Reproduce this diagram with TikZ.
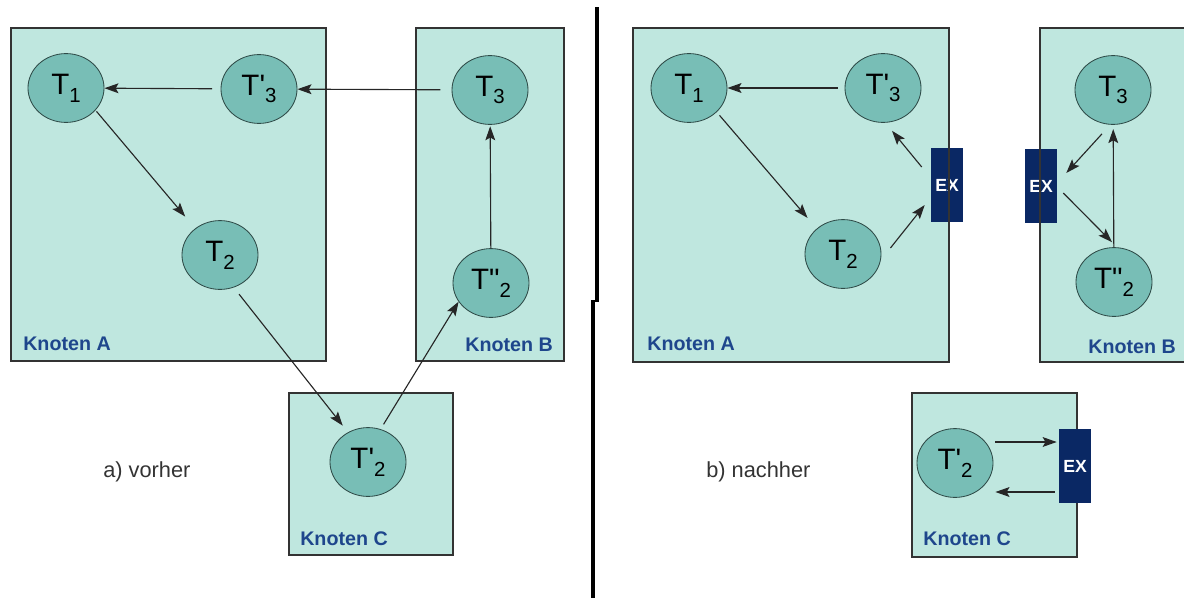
\documentclass[tikz,border=0pt]{standalone}
\usepackage{fontspec}
\setmainfont{Liberation Sans}
\usetikzlibrary{arrows.meta, shapes.geometric}
\definecolor{knotenfill}{HTML}{BFE7DF}
\definecolor{taskfill}{HTML}{78BEB6}
\definecolor{taskrand}{HTML}{2E4A47}
\definecolor{exfill}{HTML}{0A2864}
\definecolor{knotenblau}{HTML}{1E468C}
\newcommand{\tsub}[1]{\raisebox{-0.5ex}{\fontsize{14.5}{14.5}\selectfont #1}}

\begin{document}
\begin{tikzpicture}[x=0.025cm, y=-0.025cm,
    knoten/.style={draw=black!80, line width=0.9pt, fill=knotenfill},
    knotenrand/.style={draw=black!80, line width=0.9pt},
    task/.style={ellipse, draw=taskrand, line width=0.6pt, fill=taskfill,
        minimum width=1.9cm, minimum height=1.72cm, inner sep=0pt,
        font=\fontsize{21}{21}\selectfont},
    exbox/.style={rectangle, fill=exfill, minimum width=0.8cm, minimum height=1.85cm,
        inner sep=0pt, text=white, font=\bfseries\fontsize{12.5}{12.5}\selectfont},
    knotenlabel/.style={anchor=base west, inner sep=0pt, text=knotenblau,
        font=\bfseries\fontsize{14}{14}\selectfont},
    caption/.style={anchor=base west, inner sep=0pt, text=black!80,
        font=\fontsize{15.5}{15.5}\selectfont},
    pfeil/.style={-{Stealth[length=10pt, width=7pt, inset=2pt]}, draw=black!85, line width=0.8pt}]
    \useasboundingbox (0,0) rectangle (1184,598);

    % Trennlinie
    \draw[line width=2.8pt] (597,7) -- (597,302);
    \draw[line width=2.8pt] (593,300) -- (593,598);

    % a) vorher: Knoten
    \draw[knoten] (11,28) rectangle (326,361);
    \draw[knoten] (416,28) rectangle (564,361);
    \draw[knoten] (289,393) rectangle (453,555);
    \node[knotenlabel] (labA) at (23,350) {Knoten A};
    \node[knotenlabel] (labB) at (465,351) {Knoten B};
    \node[knotenlabel] (labC) at (300,545) {Knoten C};
    \node[caption] (vorher) at (103,477) {a) vorher};

    % a) vorher: Tasks
    \node[task] (t1a) at (66,88) {T\tsub{1}};
    \node[task] (t3pa) at (259,89) {T\textquotesingle\tsub{3}};
    \node[task] (t2a) at (220,255) {T\tsub{2}};
    \node[task] (t3a) at (490,90) {T\tsub{3}};
    \node[task] (t2ppa) at (491,283) {T\textquotedbl\tsub{2}};
    \node[task] (t2pa) at (368,462) {T\textquotesingle\tsub{2}};

    \draw[pfeil, shorten <=6pt] (t3pa) -- (t1a);
    \draw[pfeil, shorten <=8pt] (t3a) -- (t3pa);
    \draw[pfeil, shorten <=1pt, shorten >=11pt] (t1a.-37) -- (t2a.133);
    \draw[pfeil, shorten <=6pt, shorten >=6pt] (t2a.-67) -- (t2pa.124);
    \draw[pfeil, shorten <=4pt] (t2pa.69) -- (t2ppa.210);
    \draw[pfeil, shorten >=1pt] (t2ppa) -- (t3a);

    % b) nachher: Knoten
    \draw[knoten] (633,28) rectangle (949,362);
    \draw[knoten] (1040,28) rectangle (1200,362);
    \draw[knoten] (912,393) rectangle (1077,557);
    \node[knotenlabel] (labA2) at (647,350) {Knoten A};
    \node[knotenlabel] (labB2) at (1088,353) {Knoten B};
    \node[knotenlabel] (labC2) at (923,545) {Knoten C};
    \node[caption] (nachher) at (706,477) {b) nachher};

    % b) nachher: Tasks und Exchange
    \node[task] (t1b) at (689,88) {T\tsub{1}};
    \node[task] (t3pb) at (883,88) {T\textquotesingle\tsub{3}};
    \node[task] (t2b) at (843,254) {T\tsub{2}};
    \node[task] (t3b) at (1113,90) {T\tsub{3}};
    \node[task] (t2ppb) at (1114,282) {T\textquotedbl\tsub{2}};
    \node[task] (t2pc) at (955,463) {T\textquotesingle\tsub{2}};
    \node[exbox] (exa) at (947,185) {EX};
    \node[exbox] (exb) at (1041,186) {EX};
    \node[exbox] (exc) at (1075,466) {EX};
    \draw[knotenrand] (633,28) rectangle (949,362);
    \draw[knotenrand] (1040,28) rectangle (1200,362);

    \draw[pfeil, shorten <=5pt] (t3pb) -- (t1b);
    \draw[pfeil, shorten <=3pt, shorten >=10pt] (t1b.-41) -- (t2b.136);
    \draw[pfeil] ([shift={(9,-6)}]t2b.east) -- ([shift={(-6,20)}]exa.west);
    \draw[pfeil] ([shift={(-9,-18)}]exa.west) -- ([shift={(9,8)}]t3pb.south);
    \draw[pfeil] ([shift={(-11,9)}]t3b.south) -- ([shift={(9,-13)}]exb.east);
    \draw[pfeil] ([shift={(6,7)}]exb.east) -- ([shift={(-2,-5)}]t2ppb.north);
    \draw[pfeil, shorten >=3pt] (t2ppb) -- (t3b);
    \draw[pfeil] ([shift={(2,-21)}]t2pc.east) -- ([shift={(-2,-24)}]exc.west);
    \draw[pfeil] ([shift={(-4,26)}]exc.west) -- ([shift={(2,29)}]t2pc.east);
\end{tikzpicture}
\end{document}
